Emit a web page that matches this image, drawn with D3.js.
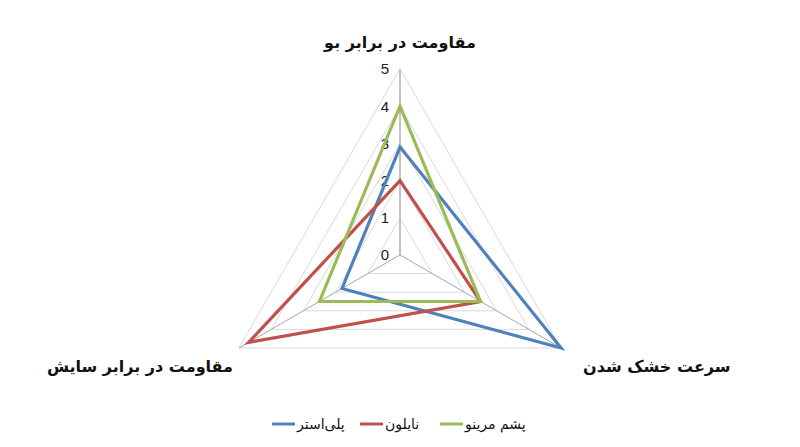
<!DOCTYPE html>
<html>
<head>
<meta charset="utf-8">
<script src="https://cdn.jsdelivr.net/npm/d3@7"></script>
<style>
  html, body { margin: 0; padding: 0; background: #fff; }
  svg { display: block; }
</style>
</head>
<body>
<div id="chart"></div>
<script>
// axes (clockwise from top) and series
const axes = ["مقاومت در برابر بو", "سرعت خشک شدن", "مقاومت در برابر سایش"];
const seriesNames = ["پلی\u200cاستر", "نایلون", "پشم مرینو"];
const polyester = [2.9, 5, 1.8];
const nylon = [2, 2.5, 4.7];
const merino = [4, 2.5, 2.5];
const ticks = [0, 1, 2, 3, 4, 5];
const colors = ["#4F81BD", "#C0504D", "#9BBB59"];

const width = 800, height = 447,
      cx = 400, cy = 255, R = 186;

const svg = d3.select("#chart").append("svg")
    .attr("width", width)
    .attr("height", height)
    .attr("viewBox", [0, 0, width, height]);

const r = d3.scaleLinear().domain([0, 5]).range([0, R]);
const angle = d3.scaleLinear().domain([0, axes.length]).range([-Math.PI / 2, 1.5 * Math.PI]);
const pt = (v, i) => [cx + r(v) * Math.cos(angle(i)), cy + r(v) * Math.sin(angle(i))];

// grid polygons
svg.append("g")
    .selectAll("path")
    .data(ticks.slice(1))
    .join("path")
      .attr("fill", "none")
      .attr("stroke", "#d9d9d9")
      .attr("stroke-width", 1)
      .attr("d", t => d3.line()(axes.map((a, i) => pt(t, i))) + "Z");

// spokes
svg.append("g")
    .selectAll("line")
    .data(axes)
    .join("line")
      .attr("x1", cx).attr("y1", cy)
      .attr("x2", (d, i) => pt(5, i)[0])
      .attr("y2", (d, i) => pt(5, i)[1])
      .attr("stroke", (d, i) => i === 0 ? "#c4c4c4" : "#a6a6a6")
      .attr("stroke-width", (d, i) => i === 0 ? 2 : 1);

// tick labels on top axis
svg.append("g")
    .selectAll("text")
    .data(ticks)
    .join("text")
      .attr("x", cx - 11)
      .attr("y", t => pt(t, 0)[1])
      .attr("dy", "0.36em")
      .attr("text-anchor", "end")
      .attr("font-family", "Liberation Sans, Arial, sans-serif")
      .attr("font-size", 15)
      .attr("fill", "#222")
      .text(t => t);

// series
const data = [polyester, nylon, merino];
svg.append("g")
    .selectAll("path")
    .data(data)
    .join("path")
      .attr("fill", "none")
      .attr("stroke", (d, i) => colors[i])
      .attr("stroke-width", 3.2)
      .attr("stroke-linejoin", "miter")
      .attr("d", d => d3.line()(d.map((v, i) => pt(v, i))) + "Z");

// axis names
const labelPos = [
  {x: cx, y: 48, anchor: "middle"},
  {x: 583, y: 372, anchor: "start"},
  {x: 233, y: 372, anchor: "end"}
];
svg.append("g")
    .selectAll("text")
    .data(axes)
    .join("text")
      .attr("x", (d, i) => labelPos[i].x)
      .attr("y", (d, i) => labelPos[i].y)
      .attr("text-anchor", (d, i) => labelPos[i].anchor)
      .attr("font-family", "DejaVu Sans, sans-serif")
      .attr("font-weight", "bold")
      .attr("font-size", 16)
      .attr("fill", "#111")
      .text(d => d);

// legend
const legendX = [272, 360, 440];
const legend = svg.append("g")
    .selectAll("g")
    .data(seriesNames)
    .join("g")
      .attr("transform", (d, i) => `translate(${legendX[i]},424)`);
legend.append("line")
    .attr("x1", 0).attr("x2", 23)
    .attr("stroke", (d, i) => colors[i])
    .attr("stroke-width", 3);
legend.append("text")
    .attr("x", 25)
    .attr("dy", "0.35em")
    .attr("text-anchor", "start")
    .attr("font-family", "DejaVu Sans, sans-serif")
    .attr("font-size", 14)
    .attr("fill", "#111")
    .text(d => d);
</script>
</body>
</html>
